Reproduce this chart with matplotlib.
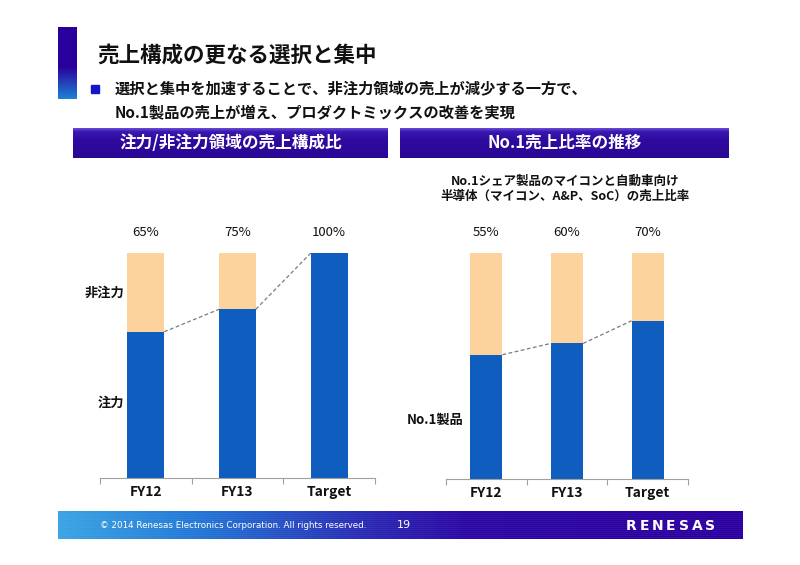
import matplotlib
matplotlib.use('Agg')
import matplotlib.pyplot as plt
import numpy as np
from matplotlib.colors import LinearSegmentedColormap
from matplotlib.patches import Rectangle

plt.rcParams['font.family'] = ['Noto Sans CJK JP', 'DejaVu Sans']

# ---- data ----
categories = ['FY12', 'FY13', 'Target']
left_focus = [0.65, 0.75, 1.00]
left_nonfocus = [0.35, 0.25, 0.00]
left_labels = ['65%', '75%', '100%']
right_no1 = [0.55, 0.60, 0.70]
right_other = [0.45, 0.40, 0.30]
right_labels = ['55%', '60%', '70%']

title = '売上構成の更なる選択と集中'
bullet_lines = ['選択と集中を加速することで、非注力領域の売上が減少する一方で、',
                'No.1製品の売上が増え、プロダクトミックスの改善を実現']
left_header = '注力/非注力領域の売上構成比'
right_header = 'No.1売上比率の推移'
right_sub = ['No.1シェア製品のマイコンと自動車向け',
             '半導体（マイコン、A&P、SoC）の売上比率']
footer_text = '© 2014 Renesas Electronics Corporation. All rights reserved.'
page_no = '19'
logo = 'RENESAS'

BLUE = '#0f5dbf'
PEACH = '#fcd39c'

fig = plt.figure(figsize=(8, 5.65), dpi=100)
bg = fig.add_axes([0, 0, 1, 1], zorder=0)
bg.axis('off')


def grad(ax, x0, x1, y0, y1, stops, horizontal=False):
    cmap = LinearSegmentedColormap.from_list('g', stops)
    g = np.linspace(0, 1, 256)
    arr = g[np.newaxis, :] if horizontal else g[:, np.newaxis]
    ax.imshow(arr, cmap=cmap, extent=(x0, x1, y1, y0), aspect='auto',
              interpolation='bicubic', zorder=1)


# title bar
grad(bg, 58, 77, 27, 99, [(0, '#2a009c'), (0.55, '#2a009c'), (1, '#1c82d6')])
bg.text(97, 55, title, fontsize=15.5, fontweight='bold', va='center', ha='left', color='#111111')
bg.add_patch(Rectangle((91, 85), 8, 8, color='#1414c8', zorder=2))
bg.text(115, 88, bullet_lines[0], fontsize=11, fontweight='bold', va='center', ha='left', color='#111111')
bg.text(115, 112, bullet_lines[1], fontsize=11, fontweight='bold', va='center', ha='left', color='#111111')

# headers
for (x0, x1, txt) in [(73, 388, left_header), (400, 729, right_header)]:
    grad(bg, x0, x1, 128, 158, [(0, '#6a50d8'), (0.12, '#3a18b0'), (0.4, '#2e0a9e'), (1, '#2a0896')])
    bg.text((x0 + x1) / 2, 143, txt, fontsize=12, fontweight='bold', color='white',
            ha='center', va='center', zorder=3)

bg.text(565, 181, right_sub[0], fontsize=9, fontweight='bold', ha='center', va='center', color='#111111')
bg.text(565, 196, right_sub[1], fontsize=9, fontweight='bold', ha='center', va='center', color='#111111')

# footer
grad(bg, 58, 743, 511, 539, [(0, '#3aa4e4'), (0.2, '#2378d6'), (0.45, '#2a2ab4'), (0.6, '#2c08a4'), (1, '#2c00a0')],
     horizontal=True)
for yy in np.arange(513, 538, 2.0):
    bg.plot([58, 743], [yy, yy], color='white', alpha=0.05, lw=0.6, zorder=2)
bg.text(100, 526, footer_text, fontsize=6.3, family='DejaVu Sans', color='white', ha='left', va='center', zorder=3)
bg.text(397, 525, page_no, fontsize=8, family='DejaVu Sans', color='white', ha='left', va='center', zorder=3)
for i, ch in enumerate(logo):
    bg.text(631 + i * 13.2, 526, ch, fontsize=10, family='DejaVu Sans', fontweight='bold',
            color='white', ha='center', va='center', zorder=3)

bg.set_xlim(0, 800)
bg.set_ylim(565, 0)

# y-labels
bg.text(124, 293, '非注力', fontsize=9.5, fontweight='bold', ha='right', va='center', color='#111111')
bg.text(124, 403, '注力', fontsize=9.5, fontweight='bold', ha='right', va='center', color='#111111')
bg.text(464, 420, 'No.1製品', fontsize=9.5, fontweight='bold', ha='right', va='center', color='#111111')


def make_chart(rect, lower, upper, labels):
    ax = fig.add_axes(rect, zorder=2)
    ax.patch.set_alpha(0)
    x = np.arange(len(categories))
    w = 0.4
    ax.bar(x, lower, width=w, color=BLUE, edgecolor='none', zorder=2)
    ax.bar(x, upper, width=w, bottom=lower, color=PEACH, edgecolor='none', zorder=2)
    for i in range(len(categories) - 1):
        ax.plot([x[i] + w / 2, x[i + 1] - w / 2], [lower[i], lower[i + 1]],
                color='#7a7a7a', lw=0.9, ls=(0, (3, 2)), zorder=3)
    for i, lab in enumerate(labels):
        ax.text(x[i], 1.09, lab, ha='center', va='center', fontsize=9.5, color='#111111')
    ax.set_xlim(-0.5, len(categories) - 0.5)
    ax.set_ylim(0, 1)
    for s in ['left', 'right', 'top']:
        ax.spines[s].set_visible(False)
    ax.spines['bottom'].set_color('#a0a0a0')
    ax.spines['bottom'].set_linewidth(0.8)
    ax.set_yticks([])
    ax.set_xticks(x)
    ax.set_xticklabels(categories, fontsize=10, fontweight='bold', color='#111111')
    ax.set_xticks(np.arange(-0.5, len(categories)), minor=True)
    ax.tick_params(axis='x', which='major', length=0, pad=5)
    ax.tick_params(axis='x', which='minor', length=4, color='#a0a0a0', width=0.8)
    return ax


make_chart([100 / 800, 87 / 565, 275 / 800, 225 / 565], left_focus, left_nonfocus, left_labels)
make_chart([446 / 800, 86 / 565, 242 / 800, 226 / 565], right_no1, right_other, right_labels)

fig.savefig('out.png', dpi=100)
